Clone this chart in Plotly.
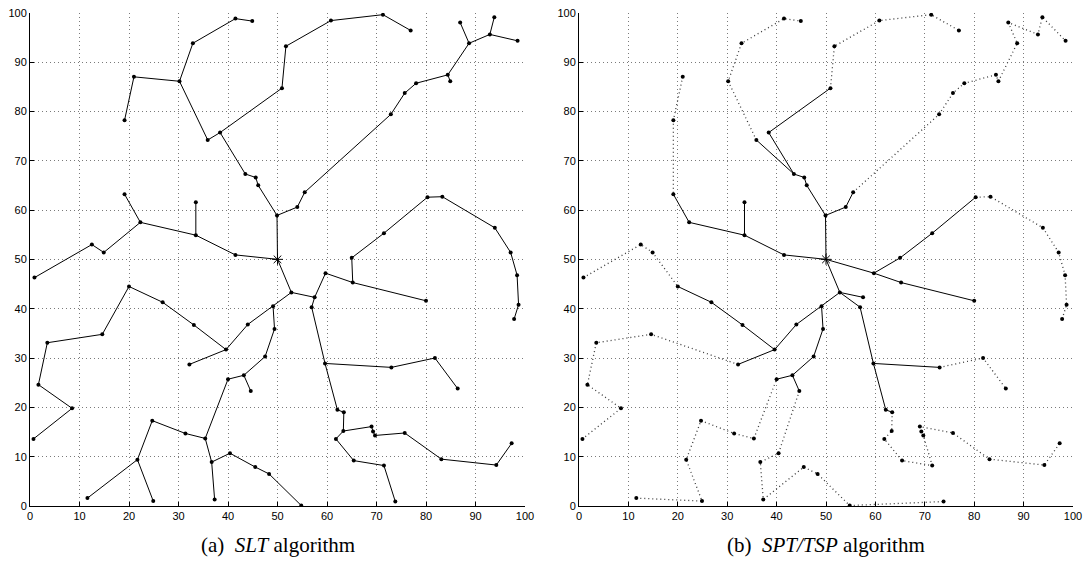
import plotly.graph_objects as go

# ---- node coordinates (node 0 is the sink at the centre) ----
node_x = [50.0, 41.5, 33.5, 33.5, 22.3, 19.1, 14.9, 12.5, 0.9, 49.9,
          46.1, 45.6, 43.5, 38.4, 35.9, 30.2, 21.0, 19.1, 32.9, 41.5,
          44.9, 50.9, 51.7, 60.8, 71.3, 76.9, 54.0, 55.5, 72.9, 75.7,
          78.0, 84.4, 84.9, 88.7, 86.9, 92.9, 93.8, 98.5, 52.8, 57.5,
          59.7, 65.2, 80.0, 65.0, 71.5, 80.3, 83.3, 93.9, 97.1, 98.4,
          98.7, 97.8, 56.9, 59.6, 73.0, 81.8, 86.4, 62.1, 63.4, 63.3,
          61.8, 65.4, 71.5, 73.8, 69.0, 69.3, 69.7, 75.7, 83.1, 94.2,
          97.3, 49.1, 44.0, 39.6, 33.1, 26.8, 20.0, 14.6, 3.5, 1.7,
          8.5, 0.7, 32.2, 49.4, 47.5, 43.2, 44.6, 40.0, 35.4, 31.4,
          24.7, 21.7, 11.6, 24.9, 36.7, 37.3, 40.4, 45.5, 48.3, 54.8]
node_y = [50.0, 50.9, 54.9, 61.6, 57.5, 63.2, 51.4, 53.0, 46.3, 58.9,
          65.0, 66.6, 67.3, 75.7, 74.2, 86.1, 87.0, 78.2, 93.8, 98.8,
          98.3, 84.7, 93.2, 98.4, 99.6, 96.4, 60.6, 63.6, 79.4, 83.7,
          85.7, 87.4, 86.1, 93.8, 98.0, 95.6, 99.1, 94.3, 43.3, 42.3,
          47.2, 45.3, 41.6, 50.3, 55.3, 62.6, 62.7, 56.4, 51.4, 46.8,
          40.8, 37.9, 40.3, 28.9, 28.1, 30.0, 23.8, 19.5, 19.0, 15.2,
          13.6, 9.2, 8.2, 0.9, 16.1, 15.1, 14.3, 14.8, 9.5, 8.3,
          12.7, 40.5, 36.8, 31.7, 36.7, 41.3, 44.5, 34.8, 33.1, 24.6,
          19.8, 13.6, 28.7, 35.9, 30.3, 26.5, 23.3, 25.7, 13.7, 14.7,
          17.3, 9.4, 1.6, 1.0, 8.9, 1.3, 10.7, 7.9, 6.5, 0.1]

# ---- (a) SLT tree, as node paths ----
slt_paths = [
    [0, 1, 2, 3], [2, 4, 5], [4, 6, 7, 8],
    [0, 9, 10, 11, 12, 13, 14, 15, 16, 17], [15, 18, 19, 20], [13, 21, 22, 23, 24, 25],
    [9, 26, 27, 28, 29, 30, 31, 32], [31, 33, 34], [33, 35, 36], [35, 37],
    [0, 38, 39, 40, 41, 42], [41, 43, 44, 45, 46, 47, 48, 49, 50, 51],
    [39, 52, 53, 54, 55, 56], [53, 57, 58, 59, 60, 61, 62, 63],
    [59, 64, 65, 66, 67, 68, 69, 70],
    [38, 71, 72, 73, 74, 75, 76, 77, 78, 79, 80, 81], [73, 82],
    [71, 83, 84, 85, 86], [85, 87, 88, 89, 90, 91, 92], [91, 93], [88, 94, 95],
    [94, 96, 97, 98, 99],
]

# ---- (b) SPT part (solid) ----
spt_paths = [
    [0, 1, 2, 3], [2, 4, 5],
    [0, 9, 26, 27], [9, 10, 11, 12, 14], [12, 13, 21],
    [0, 40, 41, 42], [40, 43, 44, 45],
    [0, 38, 39], [38, 52, 53, 54], [53, 57, 58],
    [38, 71, 72, 73, 74, 75, 76], [73, 82], [71, 83, 84, 85, 86], [85, 87],
]

# ---- (b) TSP part (dotted) ----
tsp_paths = [
    [8, 7, 6, 76], [82, 77, 78, 79, 80, 81],
    [92, 93, 91, 90, 89, 88, 87], [86, 96, 94, 95, 97, 98, 99, 63],
    [58, 59, 60, 61, 62, 66, 65, 64, 67, 68, 69, 70], [54, 55, 56],
    [45, 46, 47, 48, 49, 50, 51],
    [27, 28, 29, 30, 31, 32, 33, 34, 35, 36, 37],
    [21, 22, 23, 24, 25], [14, 15, 18, 19, 20], [16, 17, 5],
]

ticks = list(range(0, 101, 10))
captions = ["(a)  <i>SLT</i> algorithm", "(b)  <i>SPT/TSP</i> algorithm"]


def path_xy(paths):
    xs, ys = [], []
    for p in paths:
        for i in p:
            xs.append(node_x[i])
            ys.append(node_y[i])
        xs.append(None)
        ys.append(None)
    return xs, ys


fig = go.Figure()

panels = [("x", "y", [(slt_paths, "solid")]),
          ("x2", "y2", [(spt_paths, "solid"), (tsp_paths, "dot")])]

for xa, ya, groups in panels:
    for paths, style in groups:
        xs, ys = path_xy(paths)
        if style == "solid":
            ln = dict(color="black", width=1)
        else:
            ln = dict(color="#3a3a3a", width=1.3, dash="1px,3px")
        fig.add_trace(go.Scatter(
            x=xs, y=ys, mode="lines", xaxis=xa, yaxis=ya, line=ln,
            hoverinfo="skip", showlegend=False))
    fig.add_trace(go.Scatter(
        x=node_x[1:], y=node_y[1:], mode="markers", xaxis=xa, yaxis=ya,
        marker=dict(color="black", size=4), showlegend=False))
    fig.add_trace(go.Scatter(
        x=node_x[:1], y=node_y[:1], mode="markers", xaxis=xa, yaxis=ya,
        marker=dict(symbol="asterisk-open", size=9, color="black",
                    line=dict(color="black", width=1)), showlegend=False))

W, H = 1084, 563
ax_common = dict(range=[0, 100], tickvals=ticks, showline=True, linecolor="black",
                 linewidth=1, ticks="inside", ticklen=4, tickcolor="black",
                 showgrid=True, gridcolor="#7a7a7a", gridwidth=1, griddash="1px,3px",
                 zeroline=False, mirror=False, ticklabeloverflow="allow",
                 automargin=False,
                 tickfont=dict(family="Liberation Sans", size=11, color="black"))

fig.update_layout(
    width=W, height=H, margin=dict(l=0, r=0, t=0, b=0),
    paper_bgcolor="white", plot_bgcolor="white",
    xaxis=dict(domain=[30 / W, 525 / W], anchor="y", **ax_common),
    yaxis=dict(domain=[1 - 506 / H, 1 - 12.7 / H], anchor="x", **ax_common),
    xaxis2=dict(domain=[579 / W, 1073 / W], anchor="y2", **ax_common),
    yaxis2=dict(domain=[1 - 506 / H, 1 - 12.7 / H], anchor="x2", **ax_common),
)

centers = [(30 + 525) / 2 / W, (579 + 1073) / 2 / W]
for cx, txt in zip(centers, captions):
    fig.add_annotation(x=cx, y=1 - 545 / H, xref="paper", yref="paper",
                       text=txt, showarrow=False, xanchor="center", yanchor="middle",
                       font=dict(family="Liberation Serif", size=21, color="black"))

fig.write_html("out.html", config={"displayModeBar": False},
               post_script="document.body.style.margin='0';"
                           "document.body.style.overflow='hidden';")
